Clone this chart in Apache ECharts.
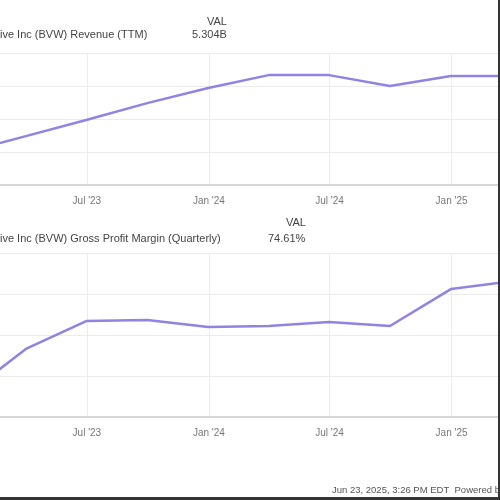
<!DOCTYPE html>
<html>
<head>
<meta charset="utf-8">
<script src="https://cdn.jsdelivr.net/npm/echarts@6/dist/echarts.min.js"></script>
<style>
html, body { margin: 0; padding: 0; background: #fff; }
#container { width: 500px; height: 500px; }
</style>
</head>
<body>
<div id="container"></div>
<script>
var dom = document.getElementById("container");
var myChart = echarts.init(dom);

// quarter end dates
var quarters = ['2022-12-31', '2023-03-31', '2023-06-30', '2023-09-30', '2023-12-31',
    '2024-03-31', '2024-06-30', '2024-09-30', '2024-12-31', '2025-03-31'];
// revenue TTM, billions
var revenue = [3.00, 3.48, 3.97, 4.48, 4.94, 5.33, 5.33, 5.00, 5.30, 5.304];
// gross profit margin, %
var grossMargin = [69.07, 71.32, 72.68, 72.73, 72.39, 72.44, 72.63, 72.44, 74.24, 74.61];

var tickDates = ['2023-07-01', '2024-01-01', '2024-07-01', '2025-01-01'];
var tickLabels = ["Jul '23", "Jan '24", "Jul '24", "Jan '25"];

var revenueName = "ive Inc (BVW) Revenue (TTM)";
var revenueVal = "5.304B";
var marginName = "ive Inc (BVW) Gross Profit Margin (Quarterly)";
var marginVal = "74.61%";
var footer = "Jun 23, 2025, 3:26 PM EDT  Powered by YCHARTS";

var FONT = 'Liberation Sans';
var lineColor = '#9182e4';

function ts(d) { return Date.UTC(+d.slice(0, 4), +d.slice(5, 7) - 1, +d.slice(8, 10)); }

function pairs(vals) {
    var out = [];
    for (var i = 0; i < quarters.length; i++) {
        out.push([ts(quarters[i]), vals[i]]);
    }
    return out;
}

var tickValues = tickDates.map(ts);

function makeX(idx) {
    return {
        type: 'value',
        gridIndex: idx,
        min: ts('2023-02-20'),
        max: ts('2025-03-12'),
        axisLine: { show: true, lineStyle: { color: '#d6d6d6', width: 2 } },
        axisTick: { show: false, customValues: tickValues },
        axisLabel: {
            customValues: tickValues,
            color: '#777',
            fontSize: 10,
            fontFamily: FONT,
            margin: 11,
            formatter: function (v) {
                var i = tickValues.indexOf(v);
                return i >= 0 ? tickLabels[i] : '';
            }
        },
        splitLine: { show: true, lineStyle: { color: '#ececec', width: 1 } }
    };
}

function makeY(idx, min, max, step) {
    return {
        type: 'value',
        gridIndex: idx,
        min: min,
        max: max,
        interval: step,
        axisLine: { show: false },
        axisTick: { show: false },
        axisLabel: { show: false },
        splitLine: { show: true, lineStyle: { color: '#ececec', width: 1 } }
    };
}

var textStyle = { fill: '#444', fontSize: 11, fontFamily: FONT };

option = {
    backgroundColor: '#fff',
    animation: false,
    grid: [
        { left: 0, right: 2, top: 53, height: 132 },
        { left: 0, right: 2, top: 253, height: 164 }
    ],
    xAxis: [makeX(0), makeX(1)],
    yAxis: [makeY(0, 2, 6, 1), makeY(1, 68, 76, 2)],
    graphic: [
        { type: 'text', left: 207, top: 16, style: Object.assign({ text: 'VAL' }, textStyle) },
        { type: 'text', left: 0, top: 29, style: Object.assign({ text: revenueName }, textStyle) },
        { type: 'text', left: 192, top: 29, style: Object.assign({ text: revenueVal }, textStyle) },
        { type: 'text', left: 286, top: 217, style: Object.assign({ text: 'VAL' }, textStyle) },
        { type: 'text', left: 0, top: 233, style: Object.assign({ text: marginName, fontSize: 11.5 }, textStyle) },
        { type: 'text', left: 268, top: 233, style: Object.assign({ text: marginVal }, textStyle) },
        { type: 'text', left: 332, top: 485, style: { text: footer, fill: '#555', fontSize: 9.5, fontFamily: FONT } },
        { type: 'rect', left: 498, top: 0, z: 100, shape: { width: 2, height: 500 }, style: { fill: '#333' } },
        { type: 'rect', left: 0, top: 497, z: 100, shape: { width: 500, height: 3 }, style: { fill: '#333' } }
    ],
    series: [
        {
            type: 'line',
            xAxisIndex: 0,
            yAxisIndex: 0,
            data: pairs(revenue),
            showSymbol: false,
            lineStyle: { color: lineColor, width: 2.5 }
        },
        {
            type: 'line',
            xAxisIndex: 1,
            yAxisIndex: 1,
            data: pairs(grossMargin),
            showSymbol: false,
            lineStyle: { color: lineColor, width: 2.5 }
        }
    ]
};
if (option && typeof option === "object") {
    myChart.setOption(option, true);
}
</script>
</body>
</html>
